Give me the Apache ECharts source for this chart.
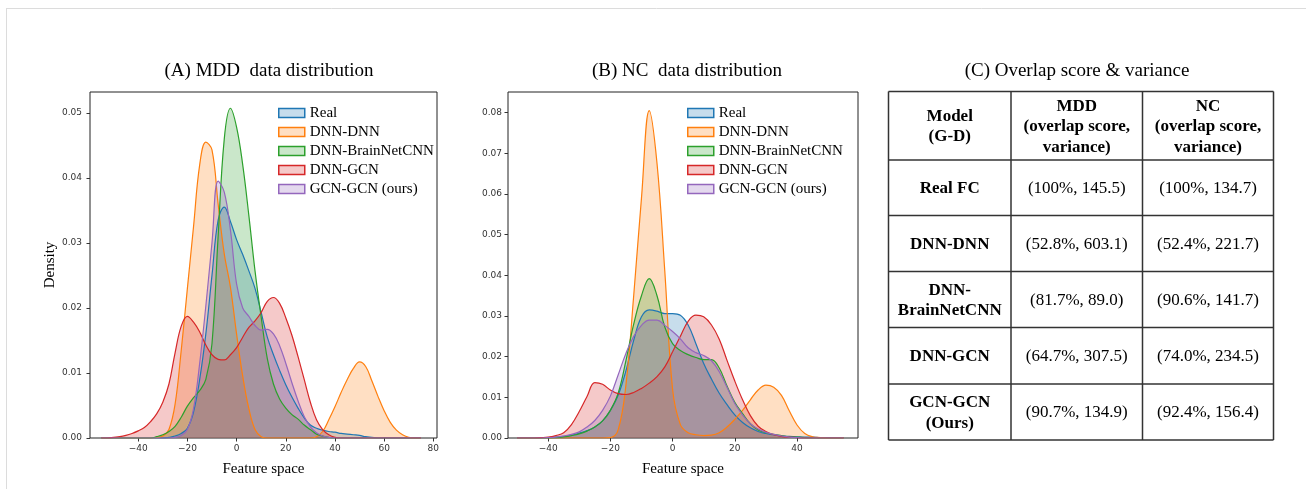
<!DOCTYPE html>
<html>
<head>
<meta charset="utf-8">
<title>MDD / NC data distribution</title>
<script src="https://cdn.jsdelivr.net/npm/echarts@6/dist/echarts.min.js"></script>
<style>
  html, body { margin: 0; padding: 0; background: #fff; }
  #main { width: 1306px; height: 489px; }
</style>
</head>
<body>
<div id="main"></div>
<script>
// ---- (A) MDD density curves, sampled on the feature-space grid ----
var xsMDD = [-55, -52.5, -50, -47.5, -45, -42.5, -40, -37.5, -35, -32.5, -30, -27.5, -25, -22.5, -20, -17.5,
  -15, -12.5, -10, -7.5, -5, -2.5, 0, 2.5, 5, 7.5, 10, 12.5, 15, 17.5, 20, 22.5, 25, 27.5, 30, 32.5, 35,
  37.5, 40, 42.5, 45, 47.5, 50, 52.5, 55, 57.5, 60, 62.5, 65, 67.5, 70, 72.5, 75];
var realMDD = [0, 0, 0, 0, 0, 0, 0, 0, 0, 0, 0, 0.0001, 0.0003, 0.0007, 0.0015, 0.004,
  0.009, 0.016, 0.025, 0.0335, 0.0355, 0.0333, 0.0305, 0.0282, 0.0257, 0.023, 0.0193, 0.0155, 0.0128, 0.0104, 0.0082, 0.0063, 0.0046, 0.0031, 0.002, 0.0015, 0.0012,
  0.001, 0.0009, 0.0007, 0.0006, 0.0005, 0.0004, 0.0002, 0.0001, 0, 0, 0, 0, 0, 0, 0, 0];
var dnnDnnMDD = [0, 0, 0, 0, 0, 0, 0, 0, 0, 0.0001, 0.0003, 0.0013, 0.0052, 0.0135, 0.023, 0.0325,
  0.042, 0.0455, 0.0443, 0.036, 0.0283, 0.0232, 0.016, 0.0095, 0.0045, 0.0013, 0.0002, 0, 0, 0, 0, 0, 0, 0, 0, 0.0002, 0.001,
  0.0028, 0.0048, 0.007, 0.009, 0.0107, 0.0117, 0.011, 0.0088, 0.0064, 0.0042, 0.0024, 0.0012, 0.0005, 0.0001, 0, 0];
var dnnBrainMDD = [0, 0, 0, 0, 0, 0, 0, 0, 0, 0.0002, 0.0005, 0.001, 0.0018, 0.0032, 0.0049, 0.0062,
  0.0073, 0.009, 0.0145, 0.031, 0.046, 0.0507, 0.0478, 0.042, 0.0342, 0.0257, 0.0186, 0.0122, 0.0083, 0.006, 0.0046, 0.0036, 0.0029, 0.002, 0.0013, 0.0006, 0.0003,
  0.0001, 0, 0, 0, 0, 0, 0, 0, 0, 0, 0, 0, 0, 0, 0, 0];
var dnnGcnMDD = [0, 0, 0.0001, 0.0002, 0.0004, 0.0007, 0.0011, 0.0016, 0.0025, 0.0037, 0.0055, 0.0083, 0.0131, 0.0172, 0.0187, 0.0178,
  0.0163, 0.0143, 0.0128, 0.0121, 0.012, 0.0128, 0.0139, 0.0155, 0.017, 0.018, 0.0193, 0.021, 0.0216, 0.0207, 0.0185, 0.0158, 0.0125, 0.009, 0.0055, 0.0028, 0.0013,
  0.0005, 0.0001, 0, 0, 0, 0, 0, 0, 0, 0, 0, 0, 0, 0, 0, 0];
var gcnGcnMDD = [0, 0, 0, 0, 0, 0, 0, 0, 0, 0, 0, 0, 0.0001, 0.0004, 0.0013, 0.0045,
  0.0115, 0.0203, 0.03, 0.0395, 0.0378, 0.032, 0.0237, 0.02, 0.0187, 0.0173, 0.0166, 0.0167, 0.016, 0.0142, 0.0115, 0.0085, 0.0057, 0.0033, 0.0017, 0.0008, 0.0003,
  0.0001, 0, 0, 0, 0, 0, 0, 0, 0, 0, 0, 0, 0, 0, 0, 0];

// ---- (B) NC density curves ----
var xsNC = [-50, -47.5, -45, -42.5, -40, -37.5, -35, -32.5, -30, -27.5, -25, -22.5, -20, -17.5, -15, -12.5,
  -10, -7.5, -5, -2.5, 0, 2.5, 5, 7.5, 10, 12.5, 15, 17.5, 20, 22.5, 25, 27.5, 30, 32.5, 35, 37.5,
  40, 42.5, 45, 47.5, 50, 52.5, 55];
var realNC = [0, 0, 0, 0, 0.0001, 0.0002, 0.0004, 0.0007, 0.0012, 0.0018, 0.0027, 0.0042, 0.0068, 0.0105, 0.0165, 0.024,
  0.0298, 0.0315, 0.0312, 0.0306, 0.0306, 0.0302, 0.0278, 0.0232, 0.0183, 0.0145, 0.011, 0.0082, 0.0057, 0.0038, 0.0025, 0.0016, 0.0011, 0.0008, 0.0005, 0.0004,
  0.0003, 0.0002, 0.0002, 0.0001, 0.0001, 0, 0];
var dnnDnnNC = [0, 0, 0, 0, 0, 0, 0, 0, 0, 0, 0, 0, 0.0001, 0.002, 0.013, 0.035,
  0.059, 0.0805, 0.0675, 0.041, 0.012, 0.0033, 0.0013, 0.0008, 0.0006, 0.0007, 0.0013, 0.0027, 0.0046, 0.0068, 0.0094, 0.0118, 0.013, 0.0125, 0.0105, 0.0067,
  0.0032, 0.0011, 0.0003, 0.0001, 0, 0, 0];
var dnnBrainNC = [0, 0, 0, 0, 0, 0.0001, 0.0003, 0.0006, 0.001, 0.0017, 0.0027, 0.0042, 0.0068, 0.011, 0.019, 0.028,
  0.035, 0.0392, 0.035, 0.0273, 0.0232, 0.0215, 0.0205, 0.0198, 0.0193, 0.0193, 0.0172, 0.0128, 0.0088, 0.006, 0.0035, 0.002, 0.0013, 0.0009, 0.0006, 0.0003,
  0.0002, 0.0001, 0, 0, 0, 0, 0];
var dnnGcnNC = [0, 0, 0, 0.0001, 0.0002, 0.0006, 0.0013, 0.0033, 0.0065, 0.0102, 0.0136, 0.0132, 0.0118, 0.0109, 0.0107, 0.0112,
  0.0122, 0.0135, 0.0151, 0.0175, 0.0212, 0.025, 0.0287, 0.0302, 0.0298, 0.0278, 0.0243, 0.0191, 0.014, 0.0094, 0.0055, 0.0029, 0.0016, 0.0008, 0.0004, 0.0002,
  0.0001, 0, 0, 0, 0, 0, 0];
var gcnGcnNC = [0, 0, 0, 0, 0.0001, 0.0002, 0.0005, 0.0009, 0.0015, 0.0027, 0.0043, 0.0068, 0.0103, 0.0155, 0.0208, 0.025,
  0.0277, 0.029, 0.029, 0.0277, 0.0262, 0.0244, 0.0222, 0.021, 0.0203, 0.019, 0.0163, 0.0125, 0.0085, 0.0057, 0.0035, 0.0022, 0.0014, 0.0009, 0.0005, 0.0002,
  0.0001, 0, 0, 0, 0, 0, 0];

var seriesNames = ['Real', 'DNN-DNN', 'DNN-BrainNetCNN', 'DNN-GCN', 'GCN-GCN (ours)'];
var colors = ['#1f77b4', '#ff7f0e', '#2ca02c', '#d62728', '#9467bd'];

// tick labels
var xTicksMDD = [-40, -20, 0, 20, 40, 60, 80];
var yTicksMDD = [0, 0.01, 0.02, 0.03, 0.04, 0.05];
var xTicksNC = [-40, -20, 0, 20, 40];
var yTicksNC = [0, 0.01, 0.02, 0.03, 0.04, 0.05, 0.06, 0.07, 0.08];

// ---- (C) overlap score & variance table ----
var tableHeader = ['Model\n(G-D)', 'MDD\n(overlap score,\nvariance)', 'NC\n(overlap score,\nvariance)'];
var models = ['Real FC', 'DNN-DNN', 'DNN-\nBrainNetCNN', 'DNN-GCN', 'GCN-GCN\n(Ours)'];
var mddOverlap = [100, 52.8, 81.7, 64.7, 90.7];
var mddVariance = [145.5, 603.1, 89.0, 307.5, 134.9];
var ncOverlap = [100, 52.4, 90.6, 74.0, 92.4];
var ncVariance = [134.7, 221.7, 141.7, 234.5, 156.4];

var SERIF = '"Liberation Serif", "DejaVu Serif", serif';
var SANS = '"DejaVu Sans", sans-serif';

function fade(hex, a) {
  var n = parseInt(hex.slice(1), 16);
  return 'rgba(' + (n >> 16) + ',' + ((n >> 8) & 255) + ',' + (n & 255) + ',' + a + ')';
}

function minus(v) {
  return String(v).replace('-', '\u2212');
}

/**
 * one filled kde curve
 */
function kdeSeries(xs, ys, k, idx) {
  return {
    name: seriesNames[k],
    type: 'line',
    xAxisIndex: idx,
    yAxisIndex: idx,
    data: xs.map(function (x, i) { return [x, ys[i]]; }),
    smooth: 0.4,
    showSymbol: false,
    symbol: 'none',
    silent: true,
    lineStyle: { color: colors[k], width: 1.2 },
    itemStyle: { color: colors[k] },
    areaStyle: { color: colors[k], opacity: 0.25 }
  };
}

function legendFor(left) {
  return {
    left: left,
    top: 100.5,
    orient: 'vertical',
    icon: 'rect',
    itemWidth: 26,
    itemHeight: 9,
    itemGap: 4,
    selectedMode: false,
    textStyle: { fontFamily: SERIF, fontSize: 15, color: '#000', lineHeight: 15 },
    data: seriesNames.map(function (n, k) {
      return { name: n, itemStyle: { color: fade(colors[k], 0.25), borderColor: colors[k], borderWidth: 1.5 } };
    })
  };
}

function xAxisFor(idx, min, max, ticks) {
  return {
    type: 'value', gridIndex: idx, min: min, max: max,
    name: 'Feature space', nameLocation: 'middle', nameGap: 24,
    nameTextStyle: { fontFamily: SERIF, fontSize: 15, color: '#000' },
    splitLine: { show: false },
    axisLine: { show: false, onZero: false },
    axisTick: { show: true, length: 3.5, customValues: ticks, lineStyle: { color: '#333' } },
    axisLabel: { customValues: ticks, formatter: minus, margin: 6, fontFamily: SANS, fontSize: 9, color: '#333' }
  };
}

function yAxisFor(idx, max, ticks, name, margin) {
  return {
    type: 'value', gridIndex: idx, min: 0, max: max,
    name: name, nameLocation: 'middle', nameGap: 32,
    nameTextStyle: { fontFamily: SERIF, fontSize: 15, color: '#000' },
    splitLine: { show: false },
    axisLine: { show: false, onZero: false },
    axisTick: { show: true, length: 3.5, customValues: ticks, lineStyle: { color: '#333' } },
    axisLabel: { customValues: ticks, margin: margin, fontFamily: SANS, fontSize: 9, color: '#333',
      formatter: function (v) { return v.toFixed(2); } }
  };
}

/**
 * table (C) drawn as graphic lines + texts
 */
function buildTable() {
  var colX = [888.5, 1011, 1142.5, 1273.5];
  var rowY = [91.5, 160, 215.5, 271.5, 327.5, 384, 440];
  var els = [];
  rowY.forEach(function (y) {
    els.push({ type: 'line', shape: { x1: colX[0], y1: y, x2: colX[3], y2: y }, style: { stroke: '#333', lineWidth: 1.5 } });
  });
  colX.forEach(function (x) {
    els.push({ type: 'line', shape: { x1: x, y1: rowY[0], x2: x, y2: rowY[rowY.length - 1] }, style: { stroke: '#333', lineWidth: 1.5 } });
  });
  function cell(text, c, r, bold) {
    els.push({
      type: 'text',
      style: {
        text: text,
        x: (colX[c] + colX[c + 1]) / 2,
        y: (rowY[r] + rowY[r + 1]) / 2 + 1,
        align: 'center', verticalAlign: 'middle',
        fontFamily: SERIF, fontSize: 17, lineHeight: 20.5,
        fontWeight: bold ? 'bold' : 'normal', fill: '#000'
      }
    });
  }
  function pct(v) { return v === 100 ? '100%' : v.toFixed(1) + '%'; }
  tableHeader.forEach(function (t, c) { cell(t, c, 0, true); });
  models.forEach(function (m, r) {
    cell(m, 0, r + 1, true);
    cell('(' + pct(mddOverlap[r]) + ', ' + mddVariance[r].toFixed(1) + ')', 1, r + 1, false);
    cell('(' + pct(ncOverlap[r]) + ', ' + ncVariance[r].toFixed(1) + ')', 2, r + 1, false);
  });
  return els;
}

var titleStyle = { fontFamily: SERIF, fontSize: 19, fontWeight: 'normal', color: '#000' };

var option = {
  backgroundColor: '#fff',
  animation: false,
  title: [
    { text: '(A) MDD  data distribution', left: 264, top: 57, textAlign: 'center', textStyle: titleStyle },
    { text: '(B) NC  data distribution', left: 682, top: 57, textAlign: 'center', textStyle: titleStyle },
    { text: '(C) Overlap score & variance', left: 1072, top: 57, textAlign: 'center', textStyle: titleStyle }
  ],
  legend: [legendFor(273), legendFor(682)],
  grid: [
    { left: 90, top: 92, width: 347, height: 346, show: true, borderColor: '#222', borderWidth: 1, backgroundColor: 'transparent' },
    { left: 508, top: 92, width: 350, height: 346, show: true, borderColor: '#222', borderWidth: 1, backgroundColor: 'transparent' }
  ],
  xAxis: [xAxisFor(0, -59.6, 81.5, xTicksMDD), xAxisFor(1, -52.9, 59.6, xTicksNC)],
  yAxis: [yAxisFor(0, 0.0532, yTicksMDD, 'Density', 8), yAxisFor(1, 0.0851, yTicksNC, '', 6)],
  series: [
    kdeSeries(xsMDD, realMDD, 0, 0),
    kdeSeries(xsMDD, dnnDnnMDD, 1, 0),
    kdeSeries(xsMDD, dnnBrainMDD, 2, 0),
    kdeSeries(xsMDD, dnnGcnMDD, 3, 0),
    kdeSeries(xsMDD, gcnGcnMDD, 4, 0),
    kdeSeries(xsNC, realNC, 0, 1),
    kdeSeries(xsNC, dnnDnnNC, 1, 1),
    kdeSeries(xsNC, dnnBrainNC, 2, 1),
    kdeSeries(xsNC, dnnGcnNC, 3, 1),
    kdeSeries(xsNC, gcnGcnNC, 4, 1)
  ],
  graphic: [
    { type: 'line', silent: true, shape: { x1: 7, y1: 8.5, x2: 1306, y2: 8.5 }, style: { stroke: '#dcdcdc', lineWidth: 1 } },
    { type: 'line', silent: true, shape: { x1: 6.5, y1: 8, x2: 6.5, y2: 489 }, style: { stroke: '#dcdcdc', lineWidth: 1 } },
    { type: 'group', silent: true, children: buildTable() }
  ]
};

var chart = echarts.init(document.getElementById('main'));
chart.setOption(option);
</script>
</body>
</html>
